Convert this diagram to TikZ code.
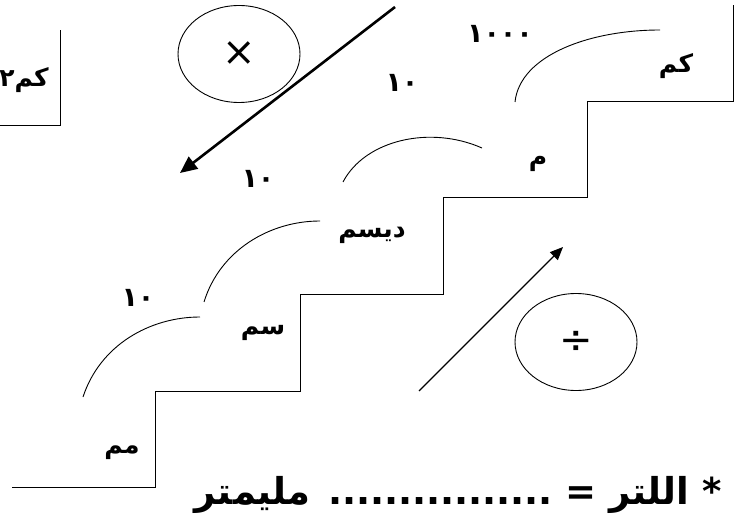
\documentclass[tikz,border=0pt]{standalone}
\usepackage{fontspec}
\usepackage{tikz}
\usetikzlibrary{arrows.meta,positioning,shapes.geometric}
\setmainfont{DejaVu Sans}
\newfontfamily\arabicfont[Script=Arabic,BoldFont={DejaVu Sans Bold}]{DejaVu Sans}
\TeXXeTstate=1

\begin{document}
\begin{tikzpicture}[x=1pt,y=-1pt,
  unit/.style={font=\arabicfont\bfseries\fontsize{25}{28}\selectfont, inner sep=0pt},
  factor/.style={font=\arabicfont\bfseries\fontsize{27}{30}\selectfont, inner sep=0pt},
  oper/.style={ellipse, draw, line width=0.9pt, minimum width=122pt, minimum height=97pt, inner sep=0pt, font=\fontsize{40}{40}\selectfont},
  hop/.style={line width=0.9pt}]
\useasboundingbox (0,0) rectangle (743,518);
% the stairs
\draw[line width=1pt] (12,487) -- (155,487) -- (155,391) -- (300,391) -- (300,294)
  -- (443,294) -- (443,198) -- (587,198) -- (587,102) -- (733,102) -- (733,5);
% corner box
\draw[line width=1pt] (0,126) -- (60,126) -- (60,30);
% units on the steps
\node[unit, anchor=east] (km2) at (49,80) {كم٢};
\node[unit] (mm) at (122,453) {مم};
\node[unit] (cm) at (263,333) {سم};
\node[unit] (dm) at (372,235) {ديسم};
\node[unit] (m) at (538,164) {م};
\node[unit] (km) at (676,66) {كم};
% factors between steps
\node[factor] (f1) at (138,298) {١٠};
\node[factor] (f2) at (258,179) {١٠};
\node[factor] (f3) at (402,83) {١٠};
\node[factor] (f4) at (500,34) {١٠٠٠};
% hops
\coordinate (a1) at (83,397);  \coordinate (b1) at (200,317);
\coordinate (a2) at (204,302); \coordinate (b2) at (320,221);
\coordinate (a3) at (343,182); \coordinate (b3) at (482,148);
\coordinate (a4) at (515,102); \coordinate (b4) at (660,30);
\draw[hop] (a1) .. controls (100,345) and (150,317) .. (b1);
\draw[hop] (a2) .. controls (220,250) and (270,221) .. (b2);
\draw[hop] (a3) .. controls (365,140) and (430,125) .. (b3);
\draw[hop] (a4) .. controls (520,55) and (590,30) .. (b4);
% operations
\node[oper] (mul) at (239,54) {×};
\node[oper] (div) at (576,342) {÷};
\coordinate (down0) at (395,7);   \coordinate (down1) at (180,173);
\coordinate (up0) at (419,391);   \coordinate (up1) at (563,247);
\draw[line width=2.6pt, -{Triangle[length=17pt,width=15pt]}] (down0) -- (down1);
\draw[line width=1.3pt, -{Triangle[length=13pt,width=11pt]}] (up0) -- (up1);
% question
\node[font=\arabicfont\bfseries\fontsize{37}{40}\selectfont, anchor=east, inner sep=0pt] (q) at (722,495)
  {\beginR * اللتر = \beginL................\endL{} مليمتر\endR};
\end{tikzpicture}
\end{document}
